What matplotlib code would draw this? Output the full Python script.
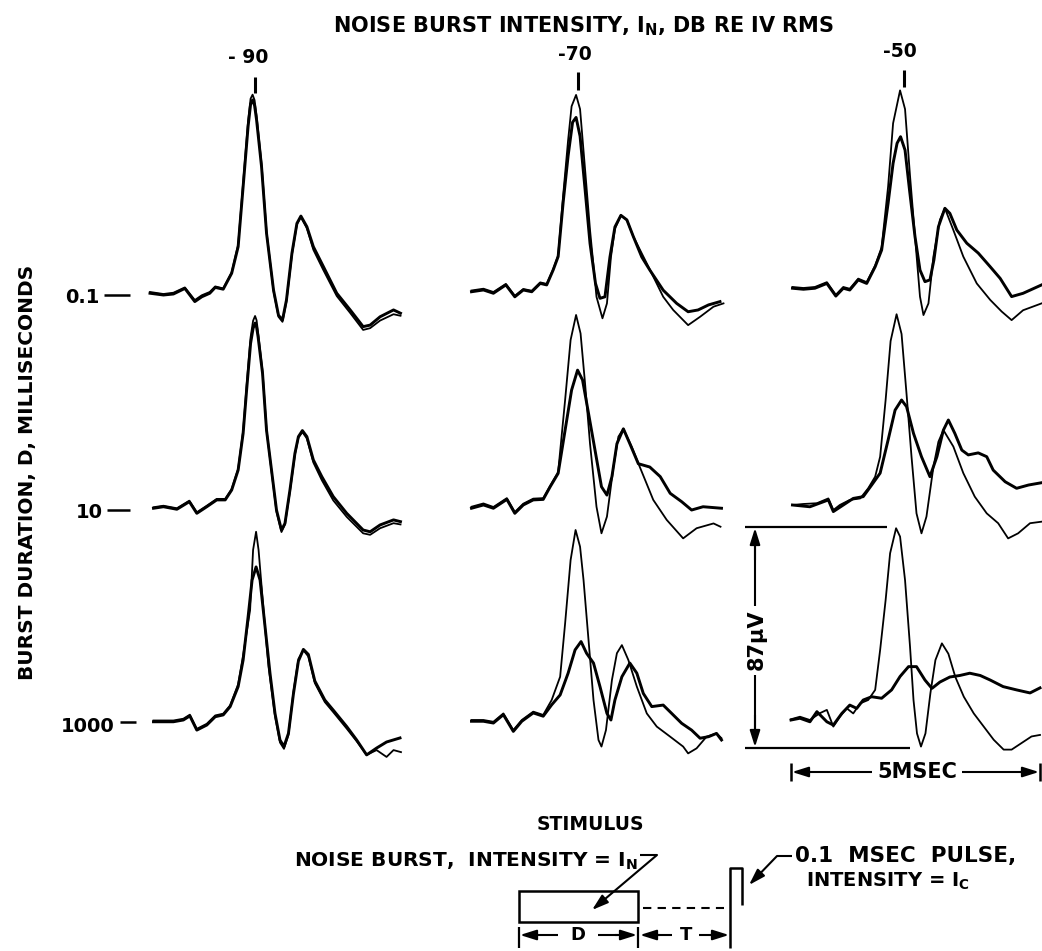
import numpy as np
import matplotlib
matplotlib.use("Agg")
import matplotlib.pyplot as plt

# Columnas: intensidad del ruido (dB), filas: duracion D (ms)
intensities = ["- 90", "-70", "-50"]
durations = ["0.1", "10", "1000"]

# ---- Trazas: tiempo (ms) y amplitud (microvoltios) ----
# thin = respuesta de control, thick = respuesta con ruido previo

# -90 dB, D = 0.1
t_c1r1 = [0, 0.27, 0.47, 0.70, 0.90, 1.04, 1.20, 1.31, 1.47, 1.64, 1.77, 1.87, 1.97, 2.02, 2.06, 2.10, 2.14, 2.24,
          2.34, 2.48, 2.58, 2.66, 2.74, 2.85, 2.95, 3.03, 3.15, 3.28, 3.48, 3.75, 4.02, 4.28, 4.42, 4.62, 4.89, 5.03]
v_c1r1_thick = [0.3, -0.4, 0, 2.2, -3.0, -1.1, 0.3, 2.6, 1.9, 8.2, 18.7, 42.4, 66.3, 75.0, 76.7, 74.5, 68.8, 50.3,
                24.0, 1.6, -8.4, -10.3, -2.4, 16.1, 27.9, 30.8, 26.6, 18.7, 10.9, 0.3, -6.3, -12.9, -12.3, -9.0, -6.3, -7.6]
v_c1r1_thin = [0.8, 0, 0.5, 2.6, -2.4, -0.5, 0.8, 3.0, 2.2, 8.6, 19.5, 44.0, 68.5, 77.2, 78.8, 76.6, 70.5, 51.5,
               24.6, 1.2, -9.0, -11.0, -3.0, 15.5, 27.5, 30.4, 26.0, 17.5, 9.5, -0.8, -7.5, -14.2, -13.5, -10.5, -8.0, -8.6]

# -90 dB, D = 10
t_c1r2 = [0.07, 0.27, 0.54, 0.79, 0.94, 1.14, 1.34, 1.51, 1.64, 1.77, 1.87, 1.94, 2.02, 2.07, 2.11, 2.14, 2.17, 2.26,
          2.34, 2.44, 2.54, 2.64, 2.71, 2.81, 2.91, 2.98, 3.06, 3.15, 3.28, 3.45, 3.68, 3.95, 4.28, 4.42, 4.62, 4.89, 5.03]
v_c1r2_thick = [-0.1, 0.5, -0.5, 2.5, -2.1, 0.5, 3.2, 3.2, 7.1, 15.0, 29.5, 46.6, 65.1, 71.0, 73.1, 71.5, 67.7, 53.2,
                30.7, 15.0, -0.8, -8.7, -6.1, 7.1, 21.6, 28.2, 30.6, 28.2, 19.0, 12.4, 4.5, -2.1, -8.7, -9.4, -6.7, -4.7, -5.4]
v_c1r2_thin = [0.3, 0.9, -0.1, 2.9, -1.7, 0.9, 3.6, 3.6, 7.5, 15.5, 30.5, 48.5, 67.5, 74.0, 75.9, 74.2, 69.5, 54.0,
               31.0, 14.5, -1.5, -9.5, -6.5, 6.5, 21.0, 27.8, 30.0, 27.5, 18.0, 11.0, 3.0, -3.5, -10.0, -10.6, -8.0, -6.0, -6.5]

# -90 dB, D = 1000
t_c1r3_thick = [0.07, 0.47, 0.67, 0.80, 0.94, 1.14, 1.31, 1.47, 1.61, 1.77, 1.87, 1.97, 2.05, 2.13, 2.21, 2.31, 2.41,
                2.51, 2.61, 2.69, 2.78, 2.88, 2.98, 3.08, 3.18, 3.31, 3.51, 3.68, 3.95, 4.15, 4.35, 4.55, 4.75, 5.02]
v_c1r3_thick = [-0.3, -0.3, 0.4, 2.0, -3.6, -1.6, 1.7, 2.4, 5.7, 13.6, 24.1, 41.2, 55.7, 60.9, 55.7, 37.3, 18.8,
                3.0, -7.5, -10.1, -4.9, 10.7, 23.7, 28.3, 26.3, 15.8, 8.3, 4.3, -2.2, -7.5, -13.4, -10.7, -8.3, -6.7]
t_c1r3_thin = [0.07, 0.47, 0.67, 0.80, 0.94, 1.14, 1.31, 1.47, 1.61, 1.77, 1.87, 2.01, 2.07, 2.13, 2.18, 2.28, 2.38,
               2.51, 2.61, 2.69, 2.78, 2.88, 2.98, 3.08, 3.18, 3.31, 3.51, 3.68, 3.95, 4.15, 4.35, 4.55, 4.75, 4.89, 5.04]
v_c1r3_thin = [0.2, 0.2, 0.9, 2.5, -3.1, -1.1, 2.2, 2.9, 6.2, 14.5, 26.0, 43.9, 67.6, 74.8, 67.6, 43.9, 21.5,
               2.0, -8.5, -11.0, -5.5, 11.5, 24.5, 28.0, 25.5, 15.0, 7.5, 3.5, -3.0, -8.0, -13.4, -11.5, -14.2, -11.5, -12.3]

# -70 dB, D = 0.1
t_c2r1_thick = [0.03, 0.27, 0.47, 0.72, 0.90, 1.07, 1.24, 1.41, 1.54, 1.67, 1.77, 1.87, 1.97, 2.06, 2.13, 2.21, 2.31,
                2.41, 2.52, 2.61, 2.71, 2.81, 2.91, 3.03, 3.15, 3.28, 3.45, 3.61, 3.88, 4.15, 4.38, 4.58, 4.79, 5.02]
v_c2r1_thick = [0.1, 0.8, -0.5, 2.8, -1.9, 0.8, 0.1, 3.4, 2.8, 8.7, 14.0, 35.3, 53.8, 67.1, 69.0, 61.6, 40.7,
                19.2, 3.4, -2.5, -1.9, 13.8, 25.7, 30.3, 28.5, 21.9, 13.8, 8.7, 0.7, -4.5, -7.8, -7.1, -5.1, -3.8]
t_c2r1_thin = [0.03, 0.27, 0.47, 0.72, 0.90, 1.07, 1.24, 1.41, 1.54, 1.67, 1.77, 1.87, 1.97, 2.04, 2.13, 2.21, 2.31,
               2.41, 2.54, 2.66, 2.75, 2.83, 2.91, 3.03, 3.15, 3.28, 3.55, 3.88, 4.08, 4.38, 4.62, 4.89, 5.09]
v_c2r1_thin = [0.6, 1.3, 0, 3.2, -1.5, 1.2, 0.5, 3.8, 3.2, 9.0, 14.5, 38.0, 60.0, 73.4, 77.9, 72.3, 48.6,
               24.5, -1.9, -10.4, -4.5, 13.8, 25.0, 30.3, 28.5, 21.9, 11.3, -1.9, -7.1, -13.1, -9.8, -5.8, -4.5]

# -70 dB, D = 10
t_c2r2_thick = [0.03, 0.27, 0.47, 0.74, 0.90, 1.07, 1.27, 1.47, 1.61, 1.77, 1.91, 2.04, 2.16, 2.26, 2.38, 2.51, 2.64,
                2.75, 2.85, 2.95, 3.08, 3.21, 3.38, 3.61, 3.82, 4.02, 4.25, 4.45, 4.68, 5.05]
v_c2r2_thick = [-0.1, 1.2, -0.1, 3.4, -2.1, 1.2, 3.2, 3.4, 8.4, 13.7, 30.8, 46.6, 54.5, 50.6, 37.4, 22.9, 8.4,
                5.1, 12.4, 25.4, 31.3, 25.4, 17.5, 16.2, 12.4, 5.8, 2.5, -0.8, 0.5, -0.1]
t_c2r2_thin = [0.03, 0.27, 0.47, 0.74, 0.90, 1.07, 1.27, 1.47, 1.61, 1.77, 1.91, 2.02, 2.13, 2.22, 2.31, 2.41, 2.54,
               2.64, 2.75, 2.88, 2.98, 3.08, 3.25, 3.41, 3.68, 3.95, 4.28, 4.55, 4.89, 5.03]
v_c2r2_thin = [0.5, 1.8, 0.4, 3.9, -1.6, 1.7, 3.7, 3.9, 8.8, 14.2, 42.7, 66.4, 76.3, 69.0, 49.3, 25.4, 0.5,
               -10.0, -3.4, 16.2, 28.2, 31.3, 24.1, 16.2, 3.2, -4.7, -12.0, -8.0, -6.1, -7.4]

# -70 dB, D = 1000
t_c2r3_thick = [0.03, 0.27, 0.47, 0.67, 0.87, 1.04, 1.27, 1.47, 1.64, 1.81, 1.97, 2.11, 2.23, 2.34, 2.48, 2.61,
                2.75, 2.83, 2.91, 3.05, 3.21, 3.35, 3.48, 3.65, 3.88, 4.05, 4.25, 4.45, 4.62, 4.79, 4.95, 5.05]
v_c2r3_thick = [-0.5, -0.5, -1.2, 2.1, -4.5, -0.5, 2.8, 1.5, 6.0, 9.9, 18.5, 27.7, 31.0, 26.4, 22.5, 13.2,
                2.6, 0, 7.9, 17.1, 22.5, 18.5, 10.5, 5.3, 5.9, 2.6, -1.3, -4.0, -7.2, -6.6, -5.3, -7.9]
t_c2r3_thin = [0.03, 0.27, 0.47, 0.67, 0.87, 1.04, 1.27, 1.47, 1.64, 1.81, 1.91, 2.02, 2.12, 2.21, 2.28, 2.38, 2.48,
               2.58, 2.64, 2.73, 2.85, 2.95, 3.05, 3.18, 3.35, 3.55, 3.75, 4.02, 4.28, 4.38, 4.55, 4.75, 4.95, 5.05]
v_c2r3_thin = [0, 0, -0.7, 2.6, -4.0, 0, 3.3, 2.0, 7.9, 17.1, 38.2, 63.2, 75.1, 68.5, 55.3, 31.6, 7.9,
               -7.9, -10.5, -4.0, 15.8, 26.4, 29.6, 23.7, 13.2, 2.6, -2.6, -6.6, -10.5, -13.2, -11.2, -6.6, -5.3, -7.2]

# -50 dB, D = 0.1
t_c3r1_thick = [0.03, 0.25, 0.48, 0.72, 0.90, 1.05, 1.18, 1.35, 1.52, 1.69, 1.82, 1.95, 2.05, 2.13, 2.20, 2.29, 2.38,
                2.49, 2.59, 2.69, 2.79, 2.87, 2.96, 3.09, 3.19, 3.33, 3.53, 3.76, 4.00, 4.20, 4.43, 4.66, 5.03]
v_c3r1_thick = [0.3, -0.1, 0.3, 2.2, -2.8, 0.3, -0.4, 3.6, 2.2, 8.8, 15.4, 33.9, 49.7, 57.6, 60.2, 54.9, 39.1,
                20.7, 7.5, 2.9, 3.6, 11.5, 24.6, 31.9, 29.9, 23.3, 18.1, 14.2, 8.8, 4.2, -3.0, -1.7, 1.6]
t_c3r1_thin = [0.03, 0.25, 0.48, 0.72, 0.90, 1.05, 1.18, 1.35, 1.52, 1.69, 1.82, 1.95, 2.05, 2.19, 2.29, 2.39,
               2.49, 2.59, 2.66, 2.76, 2.86, 2.99, 3.09, 3.26, 3.46, 3.73, 4.00, 4.23, 4.43, 4.66, 5.03]
v_c3r1_thin = [0.8, 0.4, 0.8, 2.7, -2.3, 0.8, 0.1, 4.1, 2.7, 9.3, 16.5, 40.5, 65.5, 78.5, 71.1, 44.7,
               20.7, -3.0, -10.3, -5.7, 12.8, 27.3, 31.9, 23.3, 12.8, 2.2, -4.3, -8.9, -12.3, -8.4, -5.7]

# -50 dB, D = 10
t_c3r2_thick = [0.03, 0.38, 0.75, 0.85, 1.05, 1.25, 1.45, 1.62, 1.79, 1.95, 2.09, 2.22, 2.32, 2.46, 2.62, 2.79,
                2.93, 3.06, 3.16, 3.29, 3.43, 3.56, 3.76, 3.93, 4.06, 4.30, 4.53, 4.77, 5.03]
v_c3r2_thick = [0, -0.7, 2.0, -2.6, 0, 2.6, 3.3, 7.9, 12.6, 25.7, 37.5, 41.5, 38.9, 28.3, 19.1, 11.2,
                19.1, 29.6, 33.6, 28.3, 21.7, 19.8, 20.6, 19.1, 13.8, 9.2, 6.6, 7.9, 8.8]
t_c3r2_thin = [0.03, 0.25, 0.52, 0.75, 0.85, 0.98, 1.18, 1.39, 1.55, 1.69, 1.79, 1.90, 2.00, 2.12, 2.22, 2.32,
               2.42, 2.52, 2.62, 2.72, 2.86, 2.96, 3.06, 3.26, 3.46, 3.69, 3.93, 4.16, 4.36, 4.56, 4.80, 5.03]
v_c3r2_thin = [0, 0.4, 0.7, 2.6, -2.0, 0, 2.0, 2.6, 6.6, 11.2, 19.1, 41.5, 64.8, 75.4, 67.6, 43.9,
               19.1, -3.3, -11.2, -4.6, 15.1, 25.0, 29.6, 23.1, 12.6, 3.3, -3.3, -7.2, -13.2, -11.2, -7.2, -6.6]

# -50 dB, D = 1000
t_c3r3_thick = [0, 0.18, 0.38, 0.52, 0.72, 0.85, 1.02, 1.18, 1.32, 1.45, 1.62, 1.82, 2.02, 2.19, 2.36, 2.52,
                2.69, 2.83, 2.99, 3.19, 3.39, 3.59, 3.80, 4.00, 4.26, 4.53, 4.80, 5.00]
v_c3r3_thick = [-0.4, 0.3, -1.1, 2.9, -1.1, -2.4, 2.2, 5.5, 4.2, 7.5, 8.8, 8.2, 11.5, 16.8, 20.7, 20.7,
                15.4, 12.1, 14.6, 16.6, 17.2, 18.1, 17.2, 15.4, 12.8, 11.5, 10.3, 12.3]
t_c3r3_thin = [0, 0.18, 0.38, 0.58, 0.72, 0.85, 0.98, 1.12, 1.25, 1.39, 1.55, 1.69, 1.79, 1.90, 1.99, 2.11, 2.19,
               2.29, 2.39, 2.46, 2.53, 2.61, 2.70, 2.80, 2.90, 3.03, 3.16, 3.30, 3.47, 3.67, 3.87, 4.07, 4.27,
               4.43, 4.63, 4.83, 5.00]
v_c3r3_thin = [-0.1, 0.9, -0.4, 2.3, 3.6, -3.0, 0.9, 4.2, 2.2, 6.2, 7.5, 11.5, 27.3, 47.0, 65.5, 75.4, 72.1,
               54.9, 28.6, 7.5, -5.7, -10.9, -5.7, 10.3, 23.3, 29.9, 25.8, 16.6, 8.8, 2.2, -3.0, -8.2, -12.1,
               -12.1, -9.5, -6.9, -6.3]

panels = [
    [(t_c1r1, v_c1r1_thin, t_c1r1, v_c1r1_thick),
     (t_c2r1_thin, v_c2r1_thin, t_c2r1_thick, v_c2r1_thick),
     (t_c3r1_thin, v_c3r1_thin, t_c3r1_thick, v_c3r1_thick)],
    [(t_c1r2, v_c1r2_thin, t_c1r2, v_c1r2_thick),
     (t_c2r2_thin, v_c2r2_thin, t_c2r2_thick, v_c2r2_thick),
     (t_c3r2_thin, v_c3r2_thin, t_c3r2_thick, v_c3r2_thick)],
    [(t_c1r3_thin, v_c1r3_thin, t_c1r3_thick, v_c1r3_thick),
     (t_c2r3_thin, v_c2r3_thin, t_c2r3_thick, v_c2r3_thick),
     (t_c3r3_thin, v_c3r3_thin, t_c3r3_thick, v_c3r3_thick)],
]

# ---- layout (pixeles de la figura) ----
W, H = 1042, 951
PX_MS = 49.8      # 5 ms = 249 px
PX_UV = 2.53      # 87 uV = 220 px
col_x0 = [150, 470, 791]
row_y0 = [[294, 292, 289], [508, 508, 505], [721, 720, 719]]

fig = plt.figure(figsize=(W / 100, H / 100), dpi=100)
ax0 = fig.add_axes([0, 0, 1, 1])
ax0.set_xlim(0, W)
ax0.set_ylim(H, 0)
ax0.axis("off")

K = "black"
B = "bold"


def arrow(x1, y1, x2, y2):
    # flecha de (x1,y1) hacia (x2,y2)
    ax0.annotate("", xy=(x2, y2), xytext=(x1, y1),
                 arrowprops=dict(arrowstyle="-|>,head_length=0.7,head_width=0.22", lw=1.5,
                                 color=K, shrinkA=0, shrinkB=0, mutation_scale=14))


def line(xs, ys, **kw):
    ax0.plot(xs, ys, color=K, lw=kw.pop("lw", 1.6), solid_capstyle="butt", **kw)


# titulo y etiquetas
ax0.text(584, 32, "NOISE BURST INTENSITY, I$_{\\mathbf{N}}$, DB RE IV RMS", ha="center", va="baseline",
         fontsize=15, fontweight=B)
lab_x = [248, 575, 900]
lab_base = [63, 60, 57]
tick_x = [255, 578, 904]
tick_y = [(77, 93), (72, 90), (70, 87)]
for i in range(3):
    ax0.text(lab_x[i], lab_base[i], intensities[i], ha="center", va="baseline", fontsize=13.5, fontweight=B)
    line([tick_x[i], tick_x[i]], tick_y[i], lw=2.2)

ax0.text(28, 472, "BURST DURATION, D, MILLISECONDS", rotation=90, ha="center", va="center",
         fontsize=14.5, fontweight=B)
dur_right = [100, 103, 115]
dur_base = [303, 518, 732]
dash = [(104, 130, 295), (107, 130, 510), (120, 136, 722)]
for i in range(3):
    ax0.text(dur_right[i], dur_base[i], durations[i], ha="right", va="baseline", fontsize=14, fontweight=B)
    line([dash[i][0], dash[i][1]], [dash[i][2], dash[i][2]], lw=1.8)

# trazas
for r in range(3):
    for c in range(3):
        x0 = col_x0[c]
        y0 = row_y0[r][c]
        t_lo, t_hi, v_lo, v_hi = -0.3, 5.3, -30, 90
        ax = fig.add_axes([(x0 + t_lo * PX_MS) / W, 1 - (y0 - v_lo * PX_UV) / H,
                           (t_hi - t_lo) * PX_MS / W, (v_hi - v_lo) * PX_UV / H])
        ax.set_xlim(t_lo, t_hi)
        ax.set_ylim(v_lo, v_hi)
        ax.axis("off")
        ax.patch.set_alpha(0)
        tn, vn, tk, vk = panels[r][c]
        ax.plot(tn, vn, color=K, lw=1.3, solid_joinstyle="round")
        ax.plot(tk, vk, color=K, lw=2.1, solid_joinstyle="round")

# escala de amplitud 87 uV
line([745, 887], [527, 527])
line([745, 910], [748, 748])
line([755, 755], [545, 606], lw=1.5)
line([755, 755], [675, 731], lw=1.5)
arrow(755, 560, 755, 528)
arrow(755, 715, 755, 747)
ax0.text(757, 640, "87μV", rotation=90, ha="center", va="center", fontsize=15, fontweight=B)

# escala de tiempo 5 ms
line([791, 791], [763, 781], lw=1.8)
line([1040, 1040], [763, 781], lw=1.8)
line([805, 872], [772, 772], lw=1.5)
arrow(810, 772, 792, 772)
line([962, 1025], [772, 772], lw=1.5)
arrow(1020, 772, 1039, 772)
ax0.text(917, 772, "5MSEC", ha="center", va="center", fontsize=15, fontweight=B)

# diagrama del estimulo
ax0.text(590, 830, "STIMULUS", ha="center", va="baseline", fontsize=13.5, fontweight=B)
ax0.text(638, 867, "NOISE BURST,  INTENSITY = I$_{\\mathbf{N}}$", ha="right", va="baseline",
         fontsize=14.5, fontweight=B)
line([640, 657], [855, 855], lw=1.5)
arrow(657, 855, 592, 910)
ax0.add_patch(plt.Rectangle((519, 891), 119, 31, fill=False, edgecolor=K, lw=1.8))
line([643, 724], [908, 908], lw=1.5, linestyle=(0, (4, 3)))
line([730, 730, 742, 742], [948, 868, 868, 905], lw=1.8)
line([777, 792], [856, 856], lw=1.5)
arrow(777, 856, 749, 885)
ax0.text(795, 862, "0.1  MSEC  PULSE,", ha="left", va="baseline", fontsize=15.5, fontweight=B)
ax0.text(806, 887, "INTENSITY = I$_{\\mathbf{C}}$", ha="left", va="baseline", fontsize=14, fontweight=B)

line([519, 519], [927, 948], lw=1.6)
line([638, 638], [927, 948], lw=1.6)
line([540, 558], [935, 935], lw=1.5)
arrow(540, 935, 520, 935)
ax0.text(578, 935, "D", ha="center", va="center", fontsize=13, fontweight=B)
line([598, 618], [935, 935], lw=1.5)
arrow(615, 935, 637, 935)
line([658, 672], [935, 935], lw=1.5)
arrow(660, 935, 640, 935)
ax0.text(686, 935, "T", ha="center", va="center", fontsize=13, fontweight=B)
line([699, 712], [935, 935], lw=1.5)
arrow(710, 935, 729, 935)

fig.savefig("out.png", dpi=100, facecolor="white")
